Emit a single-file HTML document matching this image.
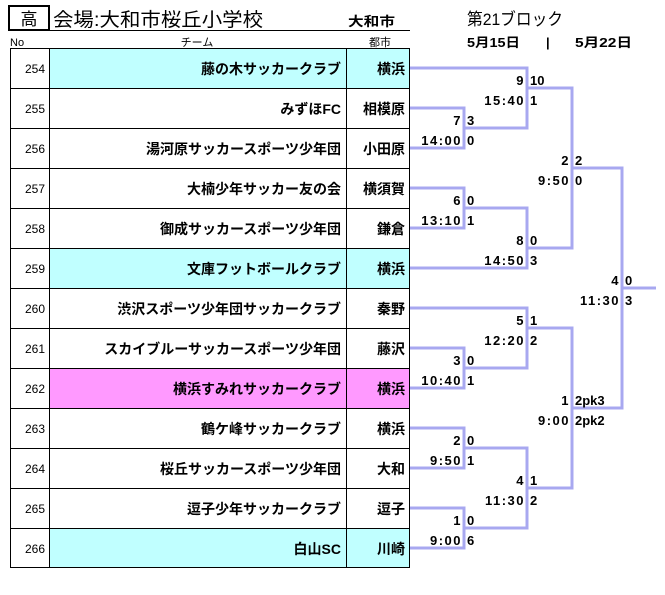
<!DOCTYPE html>
<html><head><meta charset="utf-8"><style>
body{margin:0;background:#fff;width:665px;height:595px;overflow:hidden}
svg{display:block}
text{font-family:"Liberation Sans","Noto Sans CJK JP",sans-serif;fill:#000}
.b{font-weight:bold;font-size:13px}
.t{font-weight:bold;font-size:14px}
.s{letter-spacing:1.5px}
.n{font-size:12px}
</style></head><body>
<svg width="665" height="595" viewBox="0 0 665 595" xmlns="http://www.w3.org/2000/svg">
<rect x="9" y="6" width="40" height="24" fill="none" stroke="#000" stroke-width="2"/>
<text x="29" y="25" text-anchor="middle" font-size="17">高</text>
<text x="53" y="26" font-size="19" textLength="210" lengthAdjust="spacingAndGlyphs">会場:大和市桜丘小学校</text>
<text x="348" y="26" class="b" font-size="15" textLength="47" lengthAdjust="spacingAndGlyphs">大和市</text>
<line x1="49" y1="30.5" x2="410" y2="30.5" stroke="#000" stroke-width="1"/>
<text x="467" y="25" font-size="17" textLength="96" lengthAdjust="spacingAndGlyphs">第21ブロック</text>
<text x="467" y="47" class="b" textLength="53" lengthAdjust="spacingAndGlyphs">5月15日</text>
<text x="546" y="47" class="b">|</text>
<text x="575" y="47" class="b" textLength="57" lengthAdjust="spacingAndGlyphs">5月22日</text>
<text x="10" y="46" font-size="11">No</text>
<text x="197" y="46" font-size="11" text-anchor="middle">チーム</text>
<text x="380" y="46" font-size="11" text-anchor="middle">都市</text>
<g>
<rect x="49" y="48" width="360" height="40" fill="#c0ffff"/>
<rect x="49" y="248" width="360" height="40" fill="#c0ffff"/>
<rect x="49" y="368" width="360" height="40" fill="#ff99ff"/>
<rect x="49" y="528" width="360" height="40" fill="#c0ffff"/>
</g>
<g stroke="#000" stroke-width="1" fill="none">
<rect x="10.5" y="48.5" width="399" height="519"/>
<line x1="49.5" y1="48" x2="49.5" y2="568"/>
<line x1="346.5" y1="48" x2="346.5" y2="568"/>
<path d="M10 88.5H410M10 128.5H410M10 168.5H410M10 208.5H410M10 248.5H410M10 288.5H410M10 328.5H410M10 368.5H410M10 408.5H410M10 448.5H410M10 488.5H410M10 528.5H410"/>
</g>
<g class="n" text-anchor="end">
<text x="45" y="73">254</text><text x="45" y="113">255</text><text x="45" y="153">256</text><text x="45" y="193">257</text><text x="45" y="233">258</text><text x="45" y="273">259</text><text x="45" y="313">260</text><text x="45" y="353">261</text><text x="45" y="393">262</text><text x="45" y="433">263</text><text x="45" y="473">264</text><text x="45" y="513">265</text><text x="45" y="553">266</text>
</g>
<g class="t" text-anchor="end">
<text x="341" y="74">藤の木サッカークラブ</text>
<text x="341" y="114">みずほFC</text>
<text x="341" y="154">湯河原サッカースポーツ少年団</text>
<text x="341" y="194">大楠少年サッカー友の会</text>
<text x="341" y="234">御成サッカースポーツ少年団</text>
<text x="341" y="274">文庫フットボールクラブ</text>
<text x="341" y="314">渋沢スポーツ少年団サッカークラブ</text>
<text x="341" y="354">スカイブルーサッカースポーツ少年団</text>
<text x="341" y="394">横浜すみれサッカークラブ</text>
<text x="341" y="434">鶴ケ峰サッカークラブ</text>
<text x="341" y="474">桜丘サッカースポーツ少年団</text>
<text x="341" y="514">逗子少年サッカークラブ</text>
<text x="341" y="554">白山SC</text>
<text x="405" y="74">横浜</text><text x="405" y="114">相模原</text><text x="405" y="154">小田原</text><text x="405" y="194">横須賀</text><text x="405" y="234">鎌倉</text><text x="405" y="274">横浜</text><text x="405" y="314">秦野</text><text x="405" y="354">藤沢</text><text x="405" y="394">横浜</text><text x="405" y="434">横浜</text><text x="405" y="474">大和</text><text x="405" y="514">逗子</text><text x="405" y="554">川崎</text>
</g>
<g stroke="#a8a8f0" stroke-width="3" fill="none">
<path d="M410 68H527V128H464"/>
<path d="M410 108H464V148H410"/>
<path d="M527 88H572V248H527"/>
<path d="M410 188H464V228H410"/>
<path d="M464 208H527V268H410"/>
<path d="M572 168H622V408H572"/>
<path d="M622 288H656"/>
<path d="M410 308H527V368H464"/>
<path d="M410 348H464V388H410"/>
<path d="M527 328H572V488H527"/>
<path d="M410 428H464V468H410"/>
<path d="M464 448H527V528H464"/>
<path d="M410 508H464V548H410"/>
</g>
<g class="b s" text-anchor="end">
<text x="525" y="85">9</text><text x="525" y="105">15:40</text>
<text x="462" y="125">7</text><text x="462" y="145">14:00</text>
<text x="570" y="165">2</text><text x="570" y="185">9:50</text>
<text x="462" y="205">6</text><text x="462" y="225">13:10</text>
<text x="525" y="245">8</text><text x="525" y="265">14:50</text>
<text x="620" y="285">4</text><text x="620" y="305">11:30</text>
<text x="525" y="325">5</text><text x="525" y="345">12:20</text>
<text x="462" y="365">3</text><text x="462" y="385">10:40</text>
<text x="570" y="405">1</text><text x="570" y="425">9:00</text>
<text x="462" y="445">2</text><text x="462" y="465">9:50</text>
<text x="525" y="485">4</text><text x="525" y="505">11:30</text>
<text x="462" y="525">1</text><text x="462" y="545">9:00</text>
</g>
<g class="b">
<text x="530" y="85">10</text><text x="530" y="105">1</text>
<text x="467" y="125">3</text><text x="467" y="145">0</text>
<text x="575" y="165">2</text><text x="575" y="185">0</text>
<text x="467" y="205">0</text><text x="467" y="225">1</text>
<text x="530" y="245">0</text><text x="530" y="265">3</text>
<text x="625" y="285">0</text><text x="625" y="305">3</text>
<text x="530" y="325">1</text><text x="530" y="345">2</text>
<text x="467" y="365">0</text><text x="467" y="385">1</text>
<text x="575" y="405">2pk3</text><text x="575" y="425">2pk2</text>
<text x="467" y="445">0</text><text x="467" y="465">1</text>
<text x="530" y="485">1</text><text x="530" y="505">2</text>
<text x="467" y="525">0</text><text x="467" y="545">6</text>
</g>
</svg>
</body></html>
